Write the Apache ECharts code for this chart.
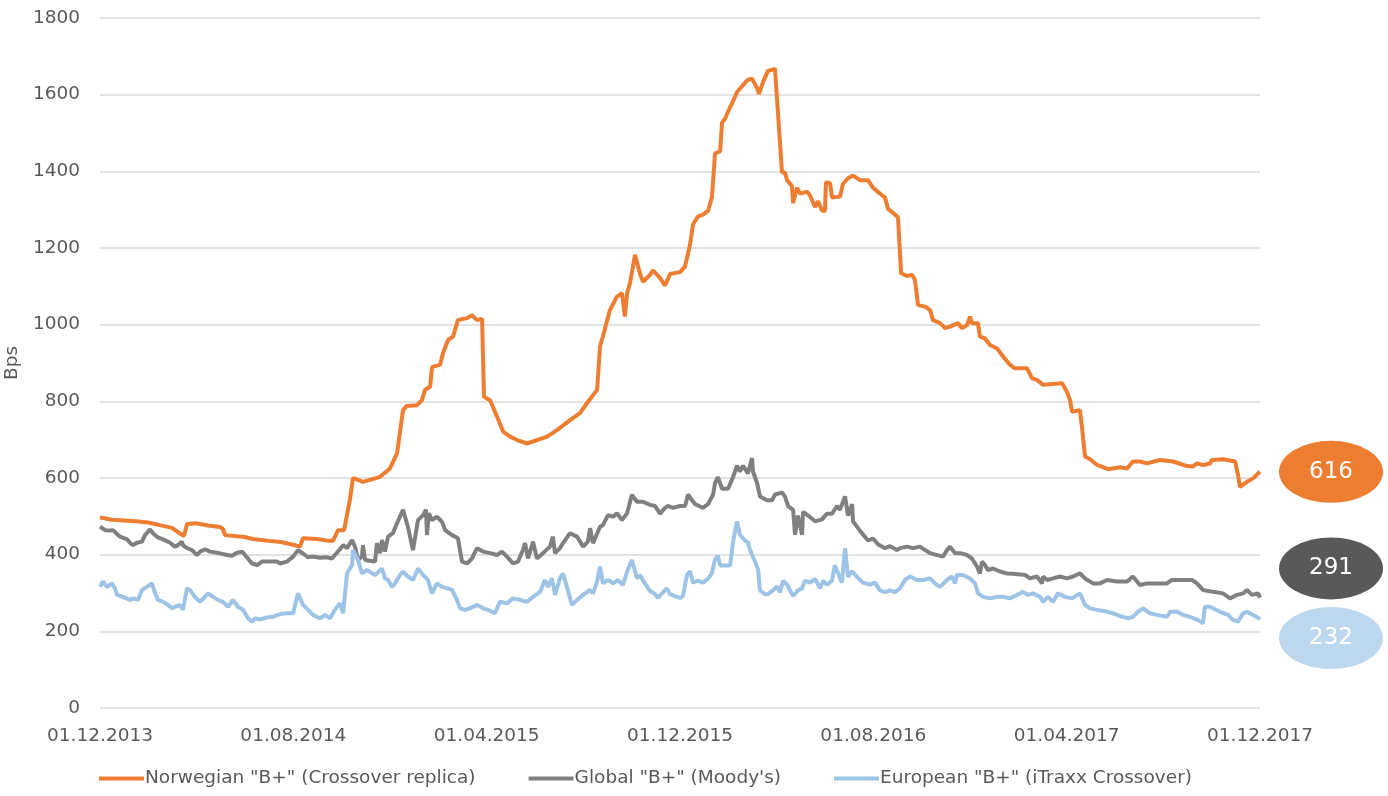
<!DOCTYPE html>
<html>
<head>
<meta charset="utf-8">
<script src="https://cdn.jsdelivr.net/npm/echarts@6/dist/echarts.min.js"></script>
<style>
  html, body { margin: 0; padding: 0; background: #fff; }
  #chart { width: 1388px; height: 796px; }
</style>
</head>
<body>
<div id="chart"></div>
<script>
// x = months since 01.12.2013, y = spread in bps
const tickLabels = ['01.12.2013', '01.08.2014', '01.04.2015', '01.12.2015', '01.08.2016', '01.04.2017', '01.12.2017'];
const seriesNames = ['Norwegian "B+" (Crossover replica)', 'Global "B+" (Moody\'s)', 'European "B+" (iTraxx Crossover)'];
const lineColors = ['#ED7D31', '#808080', '#9DC3E6'];
const bubbleColors = ['#ED7D31', '#595959', '#BDD7EE'];
const lastValues = [616, 291, 232];
const bubbleShift = [0, -28, 19];

const norwegian = [
  [0, 497], [0.5, 491], [0.99, 489], [1.49, 487], [1.99, 484], [2.48, 477], [2.98, 470], [3.31, 455], [3.48, 449],
  [3.6, 480], [3.97, 482], [4.47, 476], [4.97, 472], [5.09, 467], [5.17, 451], [6.0, 446], [6.33, 441], [6.99, 436],
  [7.49, 433], [7.99, 426], [8.28, 421], [8.4, 443], [8.98, 441], [9.48, 436], [9.64, 436], [9.85, 464], [10.1, 464],
  [10.34, 543], [10.47, 600], [10.88, 590], [11.17, 595], [11.59, 603], [12.0, 625], [12.29, 664], [12.54, 777],
  [12.7, 788], [13.12, 790], [13.32, 803], [13.45, 830], [13.66, 838], [13.74, 890], [14.07, 895], [14.19, 925],
  [14.4, 960], [14.61, 969], [14.81, 1012], [15.19, 1017], [15.39, 1025], [15.6, 1012], [15.81, 1015], [15.89, 812],
  [16.14, 803], [16.43, 760], [16.68, 721], [16.97, 708], [17.26, 699], [17.67, 690], [18.08, 699], [18.5, 708],
  [18.91, 725], [19.45, 751], [19.86, 769], [20.15, 795], [20.57, 830], [20.69, 943], [20.81, 969], [21.1, 1038],
  [21.39, 1073], [21.6, 1082], [21.72, 1021], [21.81, 1082], [21.93, 1108], [22.14, 1182], [22.34, 1134],
  [22.47, 1112], [22.76, 1130], [22.88, 1142], [23.17, 1122], [23.38, 1102], [23.59, 1132], [24.0, 1137],
  [24.21, 1152], [24.41, 1207], [24.54, 1262], [24.74, 1282], [24.95, 1287], [25.16, 1297], [25.32, 1332],
  [25.45, 1447], [25.66, 1452], [25.74, 1527], [25.86, 1537], [26.07, 1567], [26.19, 1582], [26.36, 1607],
  [26.57, 1622], [26.77, 1637], [26.98, 1642], [27.19, 1617], [27.27, 1602], [27.43, 1632], [27.64, 1662],
  [27.93, 1667], [28.06, 1547], [28.22, 1397], [28.34, 1397], [28.43, 1377], [28.63, 1362], [28.68, 1317],
  [28.84, 1357], [28.97, 1342], [29.26, 1347], [29.38, 1337], [29.59, 1307], [29.71, 1322], [29.88, 1297],
  [30.0, 1297], [30.04, 1372], [30.21, 1369], [30.29, 1332], [30.62, 1334], [30.74, 1367], [30.95, 1382],
  [31.16, 1389], [31.45, 1377], [31.78, 1377], [31.99, 1357], [32.27, 1342], [32.48, 1332], [32.61, 1302],
  [32.81, 1292], [33.02, 1280], [33.15, 1134], [33.39, 1127], [33.6, 1130], [33.72, 1117], [33.85, 1051],
  [34.14, 1047], [34.35, 1038], [34.47, 1012], [34.76, 1004], [34.97, 991], [35.17, 995], [35.5, 1004],
  [35.67, 991], [35.88, 999], [36.0, 1021], [36.08, 1004], [36.33, 1004], [36.41, 969], [36.62, 964],
  [36.83, 947], [37.12, 938], [37.32, 921], [37.66, 895], [37.86, 886], [38.36, 886], [38.57, 860],
  [38.77, 856], [39.02, 843], [39.81, 847], [40.01, 825], [40.14, 803], [40.22, 773], [40.55, 777],
  [40.63, 734], [40.76, 656], [40.97, 649], [41.26, 634], [41.71, 623], [42.21, 628], [42.5, 625],
  [42.74, 643], [43.03, 643], [43.32, 638], [43.86, 647], [44.4, 643], [44.98, 631], [45.23, 630],
  [45.39, 638], [45.64, 634], [45.93, 638], [46.01, 647], [46.47, 649], [46.97, 643], [47.09, 608],
  [47.17, 577], [47.46, 590], [47.71, 599], [47.92, 612], [48, 616]
];

const globalB = [
  [0, 473], [0.21, 464], [0.41, 463], [0.54, 464], [0.7, 454], [0.83, 447], [1.12, 440], [1.24, 431], [1.37, 425],
  [1.53, 431], [1.74, 434], [1.86, 451], [2.07, 466], [2.19, 456], [2.4, 445], [2.61, 440], [2.9, 431], [3.1, 421],
  [3.23, 425], [3.39, 434], [3.43, 425], [3.6, 417], [3.81, 412], [4.01, 399], [4.14, 408], [4.34, 414], [4.55, 408],
  [4.84, 405], [5.05, 402], [5.26, 399], [5.46, 397], [5.67, 405], [5.88, 408], [6.0, 399], [6.12, 390], [6.29, 377],
  [6.5, 373], [6.7, 382], [7.03, 382], [7.32, 382], [7.45, 377], [7.74, 382], [7.99, 395], [8.19, 412], [8.4, 403],
  [8.61, 393], [8.81, 395], [9.1, 392], [9.39, 393], [9.6, 390], [9.72, 399], [9.93, 414], [10.06, 425], [10.22, 417],
  [10.43, 438], [10.55, 421], [10.68, 386], [10.84, 395], [10.88, 425], [10.97, 386], [11.17, 384], [11.38, 382],
  [11.46, 430], [11.59, 404], [11.67, 438], [11.79, 408], [11.92, 447], [12.12, 456], [12.29, 482], [12.54, 517],
  [12.74, 473], [12.95, 412], [13.16, 490], [13.37, 503], [13.49, 517], [13.53, 451], [13.61, 508], [13.74, 490],
  [13.94, 499], [14.15, 486], [14.28, 464], [14.57, 451], [14.81, 443], [14.98, 382], [15.19, 377], [15.39, 390],
  [15.6, 417], [15.85, 408], [16.14, 404], [16.43, 399], [16.63, 408], [16.84, 395], [17.09, 377], [17.3, 382],
  [17.5, 412], [17.59, 430], [17.71, 390], [17.92, 434], [18.08, 390], [18.33, 404], [18.62, 421], [18.74, 447],
  [18.83, 404], [19.03, 417], [19.16, 430], [19.45, 456], [19.74, 447], [19.99, 421], [20.19, 434], [20.28, 469],
  [20.4, 430], [20.69, 473], [20.81, 477], [21.02, 503], [21.23, 499], [21.39, 508], [21.6, 490], [21.81, 508],
  [22.01, 556], [22.22, 538], [22.47, 538], [22.76, 530], [22.97, 527], [23.17, 507], [23.38, 522], [23.5, 527],
  [23.71, 522], [24.0, 527], [24.21, 527], [24.33, 557], [24.5, 542], [24.62, 532], [24.95, 522], [25.16, 532],
  [25.37, 557], [25.45, 587], [25.57, 602], [25.74, 572], [25.99, 572], [26.19, 602], [26.36, 632], [26.48, 617],
  [26.61, 632], [26.81, 612], [26.98, 652], [27.02, 617], [27.19, 587], [27.31, 552], [27.6, 542], [27.81, 542],
  [27.93, 557], [28.22, 562], [28.34, 552], [28.47, 527], [28.68, 517], [28.76, 452], [28.88, 502], [29.05, 452],
  [29.09, 512], [29.3, 502], [29.59, 487], [29.88, 492], [30.08, 507], [30.29, 507], [30.5, 527], [30.62, 517],
  [30.83, 552], [30.95, 502], [31.12, 532], [31.16, 487], [31.45, 462], [31.78, 437], [31.99, 442], [32.19, 427],
  [32.48, 417], [32.69, 422], [32.98, 412], [33.1, 417], [33.39, 421], [33.64, 417], [33.93, 421], [34.14, 412],
  [34.35, 404], [34.63, 399], [34.88, 395], [35.05, 412], [35.17, 421], [35.38, 404], [35.59, 404], [35.88, 399],
  [36.08, 390], [36.29, 369], [36.41, 351], [36.5, 382], [36.62, 373], [36.74, 360], [36.95, 364], [37.24, 356],
  [37.53, 351], [37.78, 350], [38.28, 347], [38.48, 338], [38.77, 343], [38.98, 325], [39.02, 343], [39.19, 334],
  [39.43, 338], [39.72, 343], [40.01, 338], [40.26, 343], [40.55, 351], [40.76, 338], [41.09, 325], [41.38, 325],
  [41.67, 334], [42.08, 330], [42.5, 330], [42.74, 343], [43.03, 321], [43.32, 325], [43.86, 325], [44.15, 325],
  [44.36, 334], [44.69, 334], [45.19, 334], [45.39, 325], [45.64, 308], [46.06, 303], [46.47, 299], [46.76, 286],
  [47.05, 295], [47.3, 299], [47.46, 308], [47.67, 295], [47.92, 299], [48, 288]
];

const european = [
  [0, 316], [0.12, 330], [0.29, 316], [0.5, 325], [0.62, 312], [0.7, 295], [0.95, 290], [1.24, 282], [1.37, 286],
  [1.57, 282], [1.74, 308], [1.94, 316], [2.15, 325], [2.28, 299], [2.4, 282], [2.61, 277], [2.81, 269], [2.98, 260],
  [3.1, 264], [3.31, 269], [3.43, 256], [3.6, 312], [3.72, 308], [3.93, 290], [4.14, 277], [4.34, 290], [4.47, 299],
  [4.68, 290], [4.88, 282], [5.09, 277], [5.3, 264], [5.5, 282], [5.71, 264], [5.92, 256], [6.12, 234], [6.29, 225],
  [6.41, 234], [6.62, 231], [6.91, 236], [7.16, 238], [7.45, 245], [7.74, 247], [7.99, 247], [8.19, 299], [8.4, 269],
  [8.61, 256], [8.81, 243], [9.1, 234], [9.31, 243], [9.52, 234], [9.72, 256], [9.93, 273], [10.06, 247], [10.22, 351],
  [10.43, 373], [10.47, 412], [10.68, 386], [10.84, 351], [11.05, 360], [11.26, 351], [11.38, 347], [11.67, 364],
  [11.79, 338], [11.92, 334], [12.08, 316], [12.21, 325], [12.41, 347], [12.54, 356], [12.74, 343], [12.95, 334],
  [13.16, 364], [13.37, 347], [13.57, 334], [13.74, 299], [13.94, 325], [14.15, 316], [14.36, 312], [14.57, 308],
  [14.77, 282], [14.9, 260], [15.1, 256], [15.31, 260], [15.6, 269], [15.85, 260], [16.06, 256], [16.34, 247],
  [16.55, 277], [16.84, 273], [17.09, 286], [17.38, 282], [17.67, 277], [17.92, 290], [18.21, 303], [18.41, 334],
  [18.54, 316], [18.7, 338], [18.83, 295], [19.03, 338], [19.16, 351], [19.32, 316], [19.53, 269], [19.74, 282],
  [19.99, 295], [20.28, 308], [20.4, 299], [20.57, 330], [20.69, 369], [20.81, 325], [21.02, 334], [21.23, 325],
  [21.43, 334], [21.64, 321], [21.81, 356], [22.01, 386], [22.22, 338], [22.34, 347], [22.55, 325], [22.76, 305],
  [22.97, 297], [23.09, 287], [23.3, 302], [23.46, 312], [23.59, 297], [23.79, 292], [24.0, 287], [24.12, 292],
  [24.29, 347], [24.41, 357], [24.54, 327], [24.74, 332], [24.95, 327], [25.16, 337], [25.32, 352], [25.45, 387],
  [25.57, 397], [25.66, 372], [26.07, 372], [26.19, 432], [26.36, 487], [26.48, 452], [26.69, 437], [26.81, 432],
  [26.9, 412], [27.1, 382], [27.23, 362], [27.31, 307], [27.52, 297], [27.64, 297], [27.85, 307], [28.01, 317],
  [28.14, 302], [28.26, 332], [28.43, 322], [28.55, 307], [28.68, 292], [28.88, 307], [29.05, 312], [29.17, 332],
  [29.38, 327], [29.59, 337], [29.79, 312], [29.92, 332], [30.08, 322], [30.29, 332], [30.41, 372], [30.54, 352],
  [30.7, 327], [30.83, 417], [30.95, 342], [31.12, 357], [31.32, 342], [31.57, 327], [31.86, 322], [32.07, 327],
  [32.27, 307], [32.48, 302], [32.69, 307], [32.9, 302], [33.1, 312], [33.31, 334], [33.52, 343], [33.81, 334],
  [34.06, 334], [34.35, 338], [34.55, 325], [34.76, 316], [35.05, 334], [35.26, 343], [35.38, 325], [35.46, 347],
  [35.71, 347], [36.0, 338], [36.21, 325], [36.33, 299], [36.54, 290], [36.83, 286], [37.12, 290], [37.37, 290],
  [37.66, 286], [37.94, 295], [38.19, 303], [38.4, 295], [38.61, 299], [38.9, 290], [39.02, 277], [39.23, 290],
  [39.43, 277], [39.64, 299], [39.93, 290], [40.22, 286], [40.55, 299], [40.76, 269], [40.97, 260], [41.26, 256],
  [41.67, 251], [41.92, 247], [42.29, 238], [42.54, 234], [42.74, 238], [42.95, 251], [43.16, 260], [43.45, 247],
  [43.74, 243], [44.15, 238], [44.28, 251], [44.57, 251], [44.81, 243], [45.1, 238], [45.43, 230], [45.64, 221],
  [45.72, 264], [45.93, 264], [46.34, 251], [46.68, 243], [46.88, 230], [47.09, 225], [47.3, 247], [47.46, 251],
  [47.71, 243], [48, 232]
];

const seriesData = [norwegian, globalB, european];
const font = 'DejaVu Sans';
const fontSize = 18.5;

const chart = echarts.init(document.getElementById('chart'));

const series = seriesData.map((data, i) => ({
  name: seriesNames[i],
  type: 'line',
  data: data,
  showSymbol: false,
  symbol: 'none',
  lineStyle: { width: 4, color: lineColors[i] },
  itemStyle: { color: lineColors[i] },
  markPoint: {
    symbol: 'circle',
    symbolSize: [104, 62],
    symbolOffset: [71, bubbleShift[i]],
    itemStyle: { color: bubbleColors[i] },
    label: {
      show: true,
      color: '#fff',
      fontFamily: font,
      fontSize: 23,
      formatter: '{c}'
    },
    data: [{ coord: [48, lastValues[i]], value: lastValues[i] }]
  }
}));

chart.setOption({
  animation: false,
  textStyle: { fontFamily: font },
  grid: { left: 100, right: 128, top: 18, bottom: 88, outerBoundsMode: 'none', containLabel: false },
  xAxis: {
    type: 'value',
    min: 0,
    max: 48,
    interval: 8,
    axisLine: { show: false },
    axisTick: { show: false },
    splitLine: { show: false },
    axisLabel: {
      color: '#595959',
      fontSize: fontSize,
      margin: 19,
      formatter: (v) => tickLabels[Math.round(v / 8)] || ''
    }
  },
  yAxis: {
    type: 'value',
    min: 0,
    max: 1800,
    interval: 200,
    name: 'Bps',
    nameLocation: 'middle',
    nameGap: 75,
    nameTextStyle: { color: '#595959', fontSize: fontSize },
    axisLine: { show: false },
    axisTick: { show: false },
    axisLabel: { color: '#595959', fontSize: fontSize, margin: 20, formatter: (v) => String(v) },
    splitLine: { lineStyle: { color: '#D9D9D9', width: 1.5 } }
  },
  legend: {
    left: 94,
    bottom: 3,
    icon: 'rect',
    itemWidth: 45,
    itemHeight: 4,
    itemGap: 53,
    textStyle: { color: '#595959', fontSize: fontSize, fontFamily: font, padding: [0, 0, 0, -4] },
    data: seriesNames
  },
  series: series
});
</script>
</body>
</html>
